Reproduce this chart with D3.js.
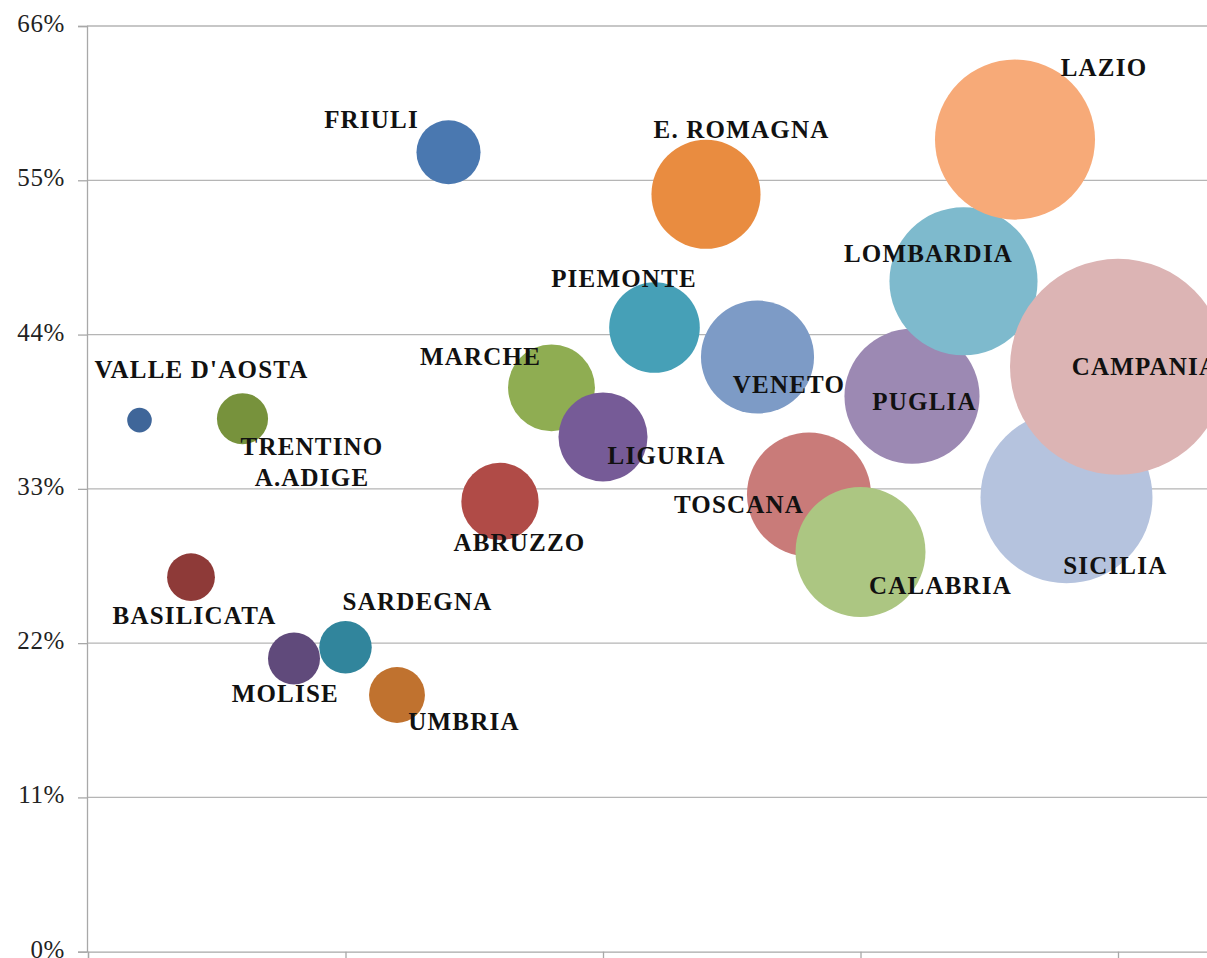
<!DOCTYPE html>
<html>
<head>
<meta charset="utf-8">
<script src="https://cdn.jsdelivr.net/npm/d3@7"></script>
<style>
  html, body { margin: 0; padding: 0; background: #fff; }
  svg { display: block; }
</style>
</head>
<body>
<svg id="chart" width="1207" height="958"></svg>
<script>
// ---- data ----
const regions = ["VALLE D'AOSTA","BASILICATA","TRENTINO A.ADIGE","MOLISE","SARDEGNA","UMBRIA","FRIULI","ABRUZZO","MARCHE","LIGURIA","PIEMONTE","E. ROMAGNA","VENETO","TOSCANA","CALABRIA","PUGLIA","LOMBARDIA","LAZIO","SICILIA","CAMPANIA"];
const xValues = [1,2,3,4,5,6,7,8,9,10,11,12,13,14,15,16,17,18,19,20];
const yValues = [37.9,26.7,38.0,20.9,21.7,18.3,57.0,32.1,40.2,36.7,44.5,54.0,42.4,32.6,28.5,39.6,47.8,57.9,32.4,41.7];
const sizes   = [1.3,4.9,5.6,5.8,5.9,6.7,8.8,12.8,16.2,17.0,17.6,25.5,27.4,33.0,36.2,39.1,47.0,54.9,63.4,100];
const yTicks = [0,11,22,33,44,55,66];
const xTicks = [0,5,10,15,20,25];

// ---- styles / layout (not data) ----
const colors = ["#3f6699","#8e3a38","#77923c","#604a7b","#31859c","#c0722f","#4a78b0","#b04b47","#8fad52","#765b97","#46a0b7","#e98c40","#7d9bc6","#c97b79","#acc682","#9c89b3","#7ebacd","#f7aa78","#b5c3de","#dcb4b4"];
// label offsets relative to bubble centre: [dx, dy, anchor, line text]
const labelLayout = [
  [[62,-41.7,"middle"]],
  [[3.5,47,"middle"]],
  [[69.5,36.5,"middle","TRENTINO"],[69.5,67,"middle","A.ADIGE"]],
  [[-8.7,43.5,"middle"]],
  [[72,-37.5,"middle"]],
  [[67,34.5,"middle"]],
  [[-77,-24.5,"middle"]],
  [[19.5,49.3,"middle"]],
  [[-71,-23,"middle"]],
  [[63.7,26.8,"middle"]],
  [[-30.5,-41,"middle"]],
  [[35.5,-56,"middle"]],
  [[31.5,36,"middle"]],
  [[-70,18.5,"middle"]],
  [[80,42,"middle"]],
  [[12.5,13.3,"middle"]],
  [[-35,-19,"middle"]],
  [[89,-64,"middle"]],
  [[48.8,76.8,"middle"]],
  [[-46.3,8.5,"start"]]
];

const W = 1207, H = 958;
const x = d3.scaleLinear().domain([0,25]).range([88, 88 + 25*51.5]);
const y = d3.scaleLinear().domain([0,66]).range([951.7, 26]);
const r = d3.scaleSqrt().domain([0,100]).range([0,108]);

const svg = d3.select("#chart");

// gridlines
svg.append("g").selectAll("line").data(yTicks.filter(t => t > 0)).join("line")
  .attr("x1", 87).attr("x2", W)
  .attr("y1", d => y(d)).attr("y2", d => y(d))
  .attr("stroke", "#b5b5b5").attr("stroke-width", 1.3);

// y axis
const yAxis = svg.append("g").attr("transform", "translate(87,0)")
  .call(d3.axisLeft(y).tickValues(yTicks).tickFormat(d => d + "%").tickSize(9).tickPadding(13));
yAxis.select(".domain").attr("stroke", "#a8a8a8").attr("stroke-width", 1.3);
yAxis.selectAll(".tick line").attr("stroke", "#a8a8a8").attr("stroke-width", 1.3);
yAxis.selectAll(".tick text")
  .attr("font-family", "'Liberation Serif', 'Times New Roman', serif")
  .attr("font-size", 25).attr("letter-spacing", 0.6).attr("fill", "#222").attr("dy", "0.22em");

// x axis
const xAxis = svg.append("g").attr("transform", `translate(0,${y(0)})`)
  .call(d3.axisBottom(x).tickValues(xTicks).tickFormat("").tickSize(7));
xAxis.select(".domain").attr("stroke", "#a8a8a8").attr("stroke-width", 1.3);
xAxis.selectAll(".tick line").attr("stroke", "#a8a8a8").attr("stroke-width", 1.3);

// bubbles
const data = regions.map((name, i) => ({ name, x: xValues[i], y: yValues[i], s: sizes[i], c: colors[i], lab: labelLayout[i] }));

svg.append("g").selectAll("circle").data(data).join("circle")
  .attr("cx", d => x(d.x)).attr("cy", d => y(d.y)).attr("r", d => r(d.s))
  .attr("fill", d => d.c);

// labels
const lg = svg.append("g")
  .attr("font-family", "'Liberation Serif', 'Times New Roman', serif")
  .attr("font-weight", "bold").attr("font-size", 25).attr("letter-spacing", 1.2).attr("fill", "#111");
data.forEach(d => {
  d.lab.forEach(l => {
    lg.append("text")
      .attr("x", x(d.x) + l[0]).attr("y", y(d.y) + l[1])
      .attr("text-anchor", l[2])
      .text(l[3] || d.name);
  });
});
</script>
</body>
</html>
